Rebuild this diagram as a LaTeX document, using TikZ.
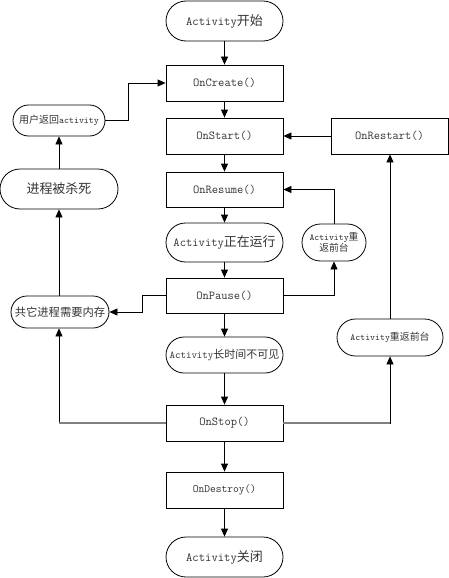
\documentclass[tikz,border=0pt]{standalone}
\usepackage{fontspec}
\setmonofont{Latin Modern Mono}[Scale=0.95]
\newfontfamily\cjk{Noto Sans CJK SC}
\usetikzlibrary{arrows.meta}
\definecolor{txt}{HTML}{333333}
\newcommand{\fsz}[1]{\fontsize{#1}{#1}\selectfont\ttfamily}
\tikzset{
  base/.style={draw=black, line width=0.8pt, inner sep=0pt, text=txt, align=center},
  procbox/.style={base, minimum width=117pt, minimum height=36pt, font=\fsz{12.8}},
  pill/.style={base, rounded corners=#1},
  link/.style={draw=black, line width=0.8pt, -{Triangle[length=8pt,width=7pt]}},
  greyline/.style={draw=gray, line width=2pt}
}
\begin{document}
\begin{tikzpicture}[x=1pt,y=-1pt]
\useasboundingbox (0,0) rectangle (449,578);
% main column
\node[pill=20pt, minimum width=117pt, minimum height=40pt, font=\fsz{13}] (start) at (224.5,21) {Activity{\cjk 开始}};
\node[procbox] (create) at (224.5,83) {OnCreate()};
\node[procbox] (onstart) at (224.5,136) {OnStart()};
\node[procbox] (restart) at (389.5,136) {OnRestart()};
\node[procbox, minimum height=35pt] (resume) at (224.5,189.5) {OnResume()};
\node[pill=19.5pt, minimum width=117pt, minimum height=39pt, font=\fsz{12.9}] (running) at (224.5,242.5) {Activity{\cjk 正在运行}};
\node[procbox, minimum height=35pt] (pause) at (224.5,295.5) {OnPause()};
\node[pill=18pt, minimum width=117pt, minimum height=36pt, font=\fsz{11}] (invis) at (224.5,355) {Activity{\cjk 长时间不可见}};
\node[procbox] (stop) at (224.5,423) {OnStop()};
\node[procbox, font=\fsz{11.8}] (destroy) at (224.5,490) {OnDestroy()};
\node[pill=20pt, minimum width=117pt, minimum height=40pt, font=\fsz{13}] (close) at (224.5,557) {Activity{\cjk 关闭}};
% left column
\node[pill=15.5pt, minimum width=92pt, minimum height=31pt, font=\fsz{10}] (back) at (59,120.5) {{\cjk 用户返回}activity};
\node[pill=20pt, minimum width=118pt, minimum height=40pt, font=\fsz{13}] (killed) at (59,189) {\cjk 进程被杀死};
\node[pill=16pt, minimum width=98pt, minimum height=32pt, font=\fsz{11.3}] (mem) at (60,312) {\cjk 共它进程需要内存};
% right column
\node[pill=18.5pt, minimum width=64pt, minimum height=37pt, font=\fsz{9.8}] (fore1) at (334,242.5) {\fontsize{9.8}{11}\selectfont Activity{\cjk 重}\\{\cjk 返前台}};
\node[pill=18.5pt, minimum width=106pt, minimum height=37pt, font=\fsz{9.9}] (fore2) at (390,337.5) {Activity{\cjk 重返前台}};
% main flow
\draw[link] (start) -- (create);
\draw[link] (create) -- (onstart);
\draw[link] (onstart) -- (resume);
\draw[link] (resume) -- (running);
\draw[link] (running) -- (pause);
\draw[link] (pause) -- (invis);
\draw[link] (invis) -- (stop);
\draw[link] (stop) -- (destroy);
\draw[link] (destroy) -- (close);
\draw[link] (restart) -- (onstart);
% left loop
\draw[link] (back.east) -- ++(23,0) |- (create.west);
\draw[link] (killed) -- (back);
\draw[link] (mem.north -| killed) -- (killed);
\draw[link] (pause.west) -- ++(-23,0) |- (mem.east);
\draw[link] (stop.west) -| (mem.south -| killed);
\draw[greyline] (stop.west) -- (stop.west -| killed);
% right loops
\draw[link] (pause.east) -| (fore1.south);
\draw[link] (fore1.north) |- (resume.east);
\draw[link] (stop.east) -| (fore2.south);
\draw[greyline] (stop.east) -- (stop.east -| fore2);
\draw[link] (fore2.north) -- (fore2.north |- restart.south);
\end{tikzpicture}
\end{document}
